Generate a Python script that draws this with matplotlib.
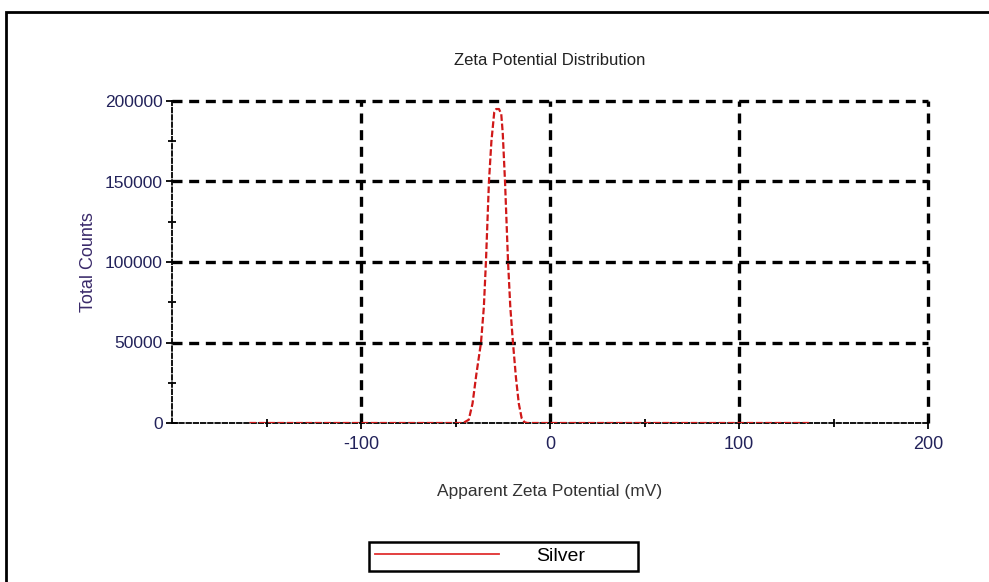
import matplotlib.pyplot as plt
from matplotlib.lines import Line2D
from matplotlib.patches import Rectangle

plt.rcParams['font.family'] = ['Liberation Sans', 'DejaVu Sans']
plt.rcParams['axes.unicode_minus'] = False

# zeta potential (mV) and total counts
zeta = [-159, -46, -43, -41, -39, -36.5, -35, -33.9, -32.3, -31, -29.5, -28.5,
        -27, -25.8, -25, -23.8, -22.2, -21, -19.6, -18, -16.5, -15, -13.5, -12, 137]
counts = [0, 0, 2000, 12000, 30000, 50000, 72000, 100000, 150000, 175000, 193000, 195000,
          195000, 192000, 180000, 150000, 100000, 72000, 50000, 28000, 12000, 3000, 500, 0, 0]

xticks = [-100, 0, 100, 200]
xminor = [-150, -50, 50, 150]
yticks = [0, 50000, 100000, 150000, 200000]
yminor = [25000, 75000, 125000, 175000]
label_col = '#22225a'

fig = plt.figure(figsize=(9.89, 5.82), dpi=100)
ax = fig.add_axes([172 / 989, 159 / 582, 756 / 989, 322 / 582])

# grid lines (not on the axes themselves)
for v in xticks:
    ax.axvline(v, color='black', lw=2.4, ls=(0, (3, 2)), zorder=1, clip_on=False)
for v in yticks[1:]:
    ax.axhline(v, color='black', lw=2.4, ls=(0, (3, 2)), zorder=1, clip_on=False)

ax.plot(zeta, counts, color='#d01818', lw=1.6, ls=(0, (3, 1.2)), zorder=3)

ax.set_xlim(-200, 200)
ax.set_ylim(0, 200000)
ax.set_xticks(xticks)
ax.set_xticks(xminor, minor=True)
ax.set_yticks(yticks)
ax.set_yticks(yminor, minor=True)
ax.tick_params(which='both', direction='inout', color='black', width=1.3)
ax.tick_params(which='major', length=9)
ax.tick_params(which='minor', length=6)
ax.tick_params(axis='x', labelsize=13, pad=5, labelcolor=label_col)
ax.tick_params(axis='y', labelsize=12.5, pad=2, labelcolor=label_col)

for s in ['top', 'right']:
    ax.spines[s].set_visible(False)
for s in ['left', 'bottom']:
    ax.spines[s].set_linestyle((0, (2.5, 1.5)))
    ax.spines[s].set_linewidth(1.3)
    ax.spines[s].set_zorder(2)

ax.set_title('Zeta Potential Distribution', fontsize=12, color='#222222', pad=26)
ax.set_xlabel('Apparent Zeta Potential (mV)', fontsize=12.5, color='#333333', labelpad=22)
ax.set_ylabel('Total Counts', fontsize=13, color='#3a2a6a', labelpad=6)

handle = Line2D([], [], color='#e03030', lw=1.3)
leg = fig.legend([handle], ['Silver'], loc='lower left', mode='expand',
                 bbox_to_anchor=(369 / 989, 11 / 582, 269 / 989, 28 / 582),
                 borderaxespad=0, fontsize=14, handlelength=6.4, handletextpad=1.9,
                 borderpad=0.3, fancybox=False, framealpha=1)
leg.get_frame().set_edgecolor('black')
leg.get_frame().set_linewidth(1.8)

# outer frame of the exported figure
fig.add_artist(Rectangle((6 / 989, -0.2), 1.2, 0.2 + 570 / 582, transform=fig.transFigure,
                         fill=False, lw=2, edgecolor='black', clip_on=False))

plt.savefig('out.png', dpi=100)
